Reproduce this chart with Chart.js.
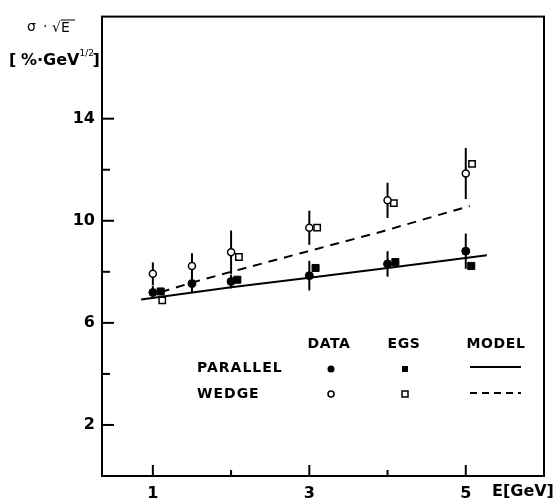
<!DOCTYPE html>
<html>
<head>
<meta charset="utf-8">
<script src="https://cdn.jsdelivr.net/npm/chart.js@4"></script>
<style>
  html, body { margin: 0; padding: 0; background: #fff; }
  #wrap { width: 556px; height: 504px; }
</style>
</head>
<body>
<div id="wrap"><canvas id="resolution_chart"></canvas></div>
<script>
// DATA
const parallel_E = [1, 1.5, 2, 3, 4, 5];
const parallel_data = [7.19, 7.54, 7.62, 7.85, 8.31, 8.81];
const parallel_err = [0.25, 0.37, 0.27, 0.58, 0.5, 0.69];

const wedge_E = [1, 1.5, 2, 3, 4, 5];
const wedge_data = [7.92, 8.23, 8.77, 9.73, 10.8, 11.85];
const wedge_err = [0.45, 0.5, 0.85, 0.67, 0.69, 1.0];

const egs_parallel_E = [1.1, 2.08, 3.08, 4.1, 5.07];
const egs_parallel = [7.23, 7.69, 8.15, 8.38, 8.23];
const egs_wedge_E = [1.12, 2.1, 3.1, 4.08, 5.08];
const egs_wedge = [6.88, 8.58, 9.73, 10.69, 12.23];

const model_parallel_E = [0.85, 2, 3, 4, 5.27];
const model_parallel = [6.92, 7.40, 7.77, 8.15, 8.65];
const model_wedge_E = [1.1, 1.5, 2, 2.94, 3.93, 5.05];
const model_wedge = [7.2, 7.58, 8.0, 8.77, 9.58, 10.58];

const x_ticks = [1, 2, 3, 4, 5];
const x_labels = [1, 3, 5];
const y_ticks = [2, 4, 6, 8, 10, 12, 14];
const y_labels = [2, 6, 10, 14];

const FONT = '"DejaVu Sans", sans-serif';

function toPoints(xs, ys) {
  return xs.map((x, i) => ({ x: x, y: ys[i] }));
}

// ERROR BARS, FRAME, INNER TICKS
const framePlugin = {
  id: "frame",
  beforeDatasetsDraw(chart) {
    const ctx = chart.ctx;
    const xs = chart.scales.x, ys = chart.scales.y;
    ctx.save();
    ctx.strokeStyle = "#000";
    ctx.lineWidth = 2;
    [[parallel_E, parallel_data, parallel_err], [wedge_E, wedge_data, wedge_err]].forEach(set => {
      set[0].forEach((e, i) => {
        const px = xs.getPixelForValue(e);
        ctx.beginPath();
        ctx.moveTo(px, ys.getPixelForValue(set[1][i] + set[2][i]));
        ctx.lineTo(px, ys.getPixelForValue(set[1][i] - set[2][i]));
        ctx.stroke();
      });
    });
    ctx.restore();
  },
  afterDraw(chart) {
    const ctx = chart.ctx;
    const a = chart.chartArea;
    const xs = chart.scales.x, ys = chart.scales.y;
    ctx.save();
    ctx.strokeStyle = "#000";
    ctx.lineWidth = 2;
    ctx.strokeRect(a.left, a.top, a.right - a.left, a.bottom - a.top);
    x_ticks.forEach(v => {
      const px = xs.getPixelForValue(v);
      const len = x_labels.includes(v) ? 11 : 6;
      ctx.beginPath();
      ctx.moveTo(px, a.bottom);
      ctx.lineTo(px, a.bottom - len);
      ctx.stroke();
    });
    y_ticks.forEach(v => {
      const py = ys.getPixelForValue(v);
      const len = y_labels.includes(v) ? 12 : 8;
      ctx.beginPath();
      ctx.moveTo(a.left, py);
      ctx.lineTo(a.left + len, py);
      ctx.stroke();
    });

    // AXIS TITLES
    ctx.fillStyle = "#000";
    ctx.textBaseline = "middle";
    ctx.font = "14px " + FONT;
    ctx.textAlign = "left";
    ctx.fillText("σ", 27, 27);
    ctx.fillText("·", 43, 27);
    ctx.fillText("√E", 52, 28);
    ctx.beginPath();
    ctx.lineWidth = 1;
    ctx.moveTo(61, 20);
    ctx.lineTo(75, 20);
    ctx.stroke();

    ctx.font = "bold 16px " + FONT;
    ctx.fillText("[", 9, 61);
    ctx.fillText("%·GeV", 21, 61);
    const w = ctx.measureText("%·GeV").width;
    ctx.font = "9px " + FONT;
    ctx.fillText("1/2", 21 + w, 54);
    ctx.font = "bold 16px " + FONT;
    ctx.fillText("]", 21 + w + 13, 61);

    ctx.fillText("E[GeV]", 492, 492);

    // LEGEND TABLE
    ctx.font = "bold 14px " + FONT;
    ctx.letterSpacing = "0.6px";
    ctx.textAlign = "center";
    ctx.fillText("DATA", 329, 344);
    ctx.fillText("EGS", 404, 344);
    ctx.fillText("MODEL", 496, 344);
    ctx.textAlign = "left";
    ctx.letterSpacing = "1px";
    ctx.fillText("PARALLEL", 197, 368);
    ctx.fillText("WEDGE", 197, 394);
    ctx.letterSpacing = "0px";

    ctx.lineWidth = 1.5;
    ctx.beginPath();
    ctx.arc(331, 369, 3.5, 0, Math.PI * 2);
    ctx.fill();
    ctx.fillRect(402, 366, 6, 6);
    ctx.beginPath();
    ctx.arc(331, 394, 3, 0, Math.PI * 2);
    ctx.stroke();
    ctx.strokeRect(402, 391, 6, 6);
    ctx.lineWidth = 2;
    ctx.beginPath();
    ctx.moveTo(470, 367);
    ctx.lineTo(521, 367);
    ctx.stroke();
    ctx.setLineDash([7, 5]);
    ctx.beginPath();
    ctx.moveTo(470, 393);
    ctx.lineTo(521, 393);
    ctx.stroke();
    ctx.restore();
  }
};

const ctx = document.getElementById("resolution_chart").getContext("2d");

new Chart(ctx, {
  type: "scatter",
  data: {
    datasets: [
      {
        label: "Model parallel",
        type: "line",
        data: toPoints(model_parallel_E, model_parallel),
        borderColor: "#000",
        borderWidth: 2,
        pointRadius: 0,
        fill: false,
      },
      {
        label: "Model wedge",
        type: "line",
        data: toPoints(model_wedge_E, model_wedge),
        borderColor: "#000",
        borderWidth: 2,
        borderDash: [9, 7],
        pointRadius: 0,
        fill: false,
      },
      {
        label: "Data parallel",
        data: toPoints(parallel_E, parallel_data),
        pointStyle: "circle",
        pointRadius: 4,
        backgroundColor: "#000",
        borderColor: "#000",
        borderWidth: 1,
      },
      {
        label: "Data wedge",
        data: toPoints(wedge_E, wedge_data),
        pointStyle: "circle",
        pointRadius: 3.5,
        backgroundColor: "#fff",
        borderColor: "#000",
        borderWidth: 1.5,
      },
      {
        label: "EGS parallel",
        data: toPoints(egs_parallel_E, egs_parallel),
        pointStyle: "rect",
        pointRadius: 5,
        backgroundColor: "#000",
        borderColor: "#000",
        borderWidth: 1,
      },
      {
        label: "EGS wedge",
        data: toPoints(egs_wedge_E, egs_wedge),
        pointStyle: "rect",
        pointRadius: 4.5,
        backgroundColor: "#fff",
        borderColor: "#000",
        borderWidth: 1.5,
      },
    ],
  },
  options: {
    responsive: true,
    maintainAspectRatio: false,
    animation: false,
    layout: { padding: { top: 7, right: 12, left: 0, bottom: 0 } },
    plugins: {
      legend: { display: false },
      tooltip: { enabled: false },
    },
    scales: {
      x: {
        type: "linear",
        min: 0.35,
        max: 6,
        afterBuildTicks: (scale) => { scale.ticks = x_ticks.map(v => ({ value: v })); },
        afterFit: (scale) => { scale.height = 28; },
        grid: { display: false, drawTicks: false },
        border: { display: true, color: "#000", width: 2 },
        ticks: {
          color: "#000",
          padding: 8,
          font: { size: 16, weight: "bold", family: FONT },
          maxRotation: 0,
          autoSkip: false,
          callback: (v) => x_labels.includes(v) ? String(v) : "",
        },
      },
      y: {
        min: 0,
        max: 18,
        afterBuildTicks: (scale) => { scale.ticks = y_ticks.map(v => ({ value: v })); },
        afterFit: (scale) => { scale.width = 102; },
        grid: { display: false, drawTicks: false },
        border: { display: true, color: "#000", width: 2 },
        ticks: {
          color: "#000",
          padding: 7,
          font: { size: 16, weight: "bold", family: FONT },
          autoSkip: false,
          callback: (v) => y_labels.includes(v) ? String(v) : "",
        },
      },
    },
  },
  plugins: [framePlugin],
});
</script>
</body>
</html>
